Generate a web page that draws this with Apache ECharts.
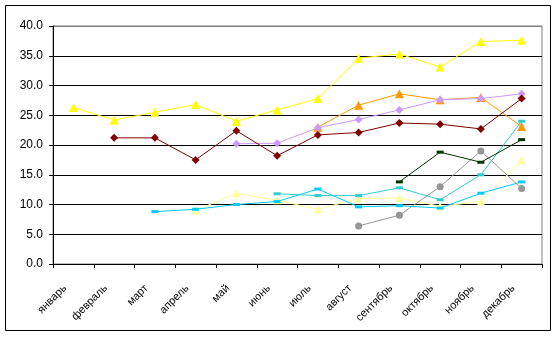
<!DOCTYPE html>
<html><head><meta charset="utf-8">
<script src="https://cdn.jsdelivr.net/npm/echarts@6/dist/echarts.min.js"></script>
<style>html,body{margin:0;padding:0;background:#fff;}#c{width:557px;height:337px;}</style>
</head><body><div id="c"></div>
<script>
const categories = ['январь','февраль','март','апрель','май','июнь','июль','август','сентябрь','октябрь','ноябрь','декабрь'];
const yTicks = [0,5,10,15,20,25,30,35,40];
const sYellow   = [26.3,24.2,25.5,26.8,24.0,25.9,27.8,34.6,35.3,33.1,37.4,37.6];
const sDarkRed  = [null,21.2,21.2,17.5,22.4,18.2,21.7,22.1,23.7,23.5,22.7,27.8];
const sLavender = [null,null,null,null,20.2,20.3,22.9,24.3,25.9,27.6,27.8,28.6];
const sOrange   = [null,null,null,null,null,null,23.0,26.7,28.6,27.6,28.0,23.1];
const sGreen    = [null,null,null,null,null,null,null,null,13.8,18.8,17.1,20.9];
const sGray     = [null,null,null,null,null,null,null,6.4,8.2,13.0,19.0,12.7];
const sTurq     = [null,null,null,null,null,11.8,11.5,11.5,12.8,10.8,15.0,24.0];
const sSky      = [null,null,8.8,9.2,10.0,10.5,12.6,9.6,9.8,9.4,11.9,13.8];
const sPale     = [null,null,null,9.0,11.9,10.7,9.2,11.0,11.1,9.7,10.5,17.5];

function ser(data,color,symbol,size){
  return {type:'line',data:data,connectNulls:false,symbol:symbol,symbolSize:size,
    lineStyle:{color:color,width:1},itemStyle:{color:color},animation:false};
}
const chart = echarts.init(document.getElementById('c'),null,{renderer:'canvas'});
chart.setOption({
  backgroundColor:'#fff',
  animation:false,
  grid:{left:53,right:15,top:26,bottom:73,show:true,borderColor:'#808080',borderWidth:1},
  graphic:[{type:'rect',shape:{x:5.5,y:5.5,width:545,height:325},style:{fill:'none',stroke:'#000',lineWidth:1},silent:true}],
  xAxis:{type:'category',data:categories,boundaryGap:true,
    axisLine:{lineStyle:{color:'#000',width:1}},
    axisTick:{show:true,length:4,lineStyle:{color:'#000'}},
    axisLabel:{rotate:45,fontFamily:'Liberation Sans, Arial',fontSize:11,color:'#000',margin:14,interval:0,padding:[0,12,0,0]}},
  yAxis:{type:'value',min:yTicks[0],max:yTicks[yTicks.length-1],interval:5,
    axisLine:{show:true,lineStyle:{color:'#000',width:1}},
    axisTick:{show:true,length:4,lineStyle:{color:'#000'}},
    axisLabel:{formatter:v=>v.toFixed(1),fontFamily:'Liberation Sans, Arial',fontSize:12,color:'#000',margin:10},
    splitLine:{show:true,lineStyle:{color:['#000','#000','#000','#000','#000','#000','#000','#000','#808080'],width:1}}},
  series:[
    ser(sPale,'#FFFF99','triangle',8),
    ser(sSky,'#00CCFF','rect',[7,3]),
    ser(sTurq,'#33CCCC','rect',[7,3]),
    ser(sGray,'#969696','circle',7),
    ser(sGreen,'#003300','rect',[7,3]),
    ser(sOrange,'#FF9900','triangle',9),
    ser(sLavender,'#CC99FF','diamond',8),
    ser(sDarkRed,'#800000','diamond',8),
    ser(sYellow,'#FFFF00','triangle',9)
  ]
});
</script></body></html>
